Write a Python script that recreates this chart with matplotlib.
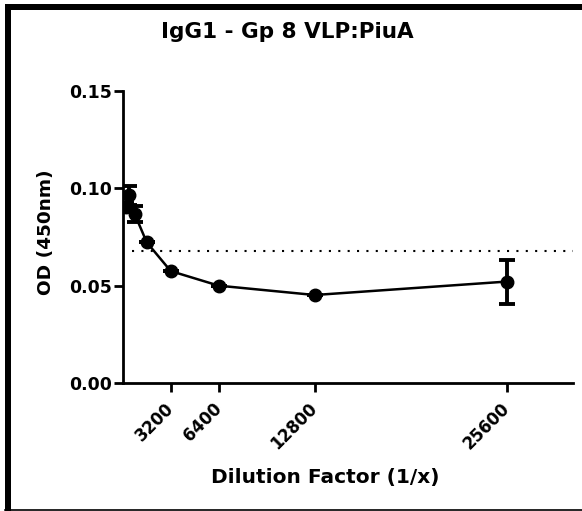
import matplotlib
matplotlib.use("Agg")
import matplotlib.pyplot as plt
from matplotlib.patches import Rectangle
from matplotlib.lines import Line2D

dilution = [200, 400, 800, 1600, 3200, 6400, 12800, 25600]
od = [0.0906, 0.0964, 0.0868, 0.0723, 0.0575, 0.0500, 0.0452, 0.0521]
od_err = [0.002, 0.0048, 0.0042, 0.0, 0.0, 0.0, 0.0, 0.0113]
cutoff = 0.068
cutoff_start = 600
xticks = [3200, 6400, 12800, 25600]
xtick_labels = ["3200", "6400", "12800", "25600"]
yticks = [0.00, 0.05, 0.10, 0.15]
ytick_labels = ["0.00", "0.05", "0.10", "0.15"]

plt.rcParams['font.family'] = ['DejaVu Sans']
plt.rcParams['font.weight'] = 'bold'

W, H = 582, 511
fig = plt.figure(figsize=(W/100, H/100), dpi=100)
ax = fig.add_axes([122.7/W, 1-383/H, 450/W, 292/H])

ax.errorbar(dilution, od, yerr=od_err, fmt='o-', color='black', ms=9,
            lw=1.8, elinewidth=2.8, capsize=5.5, capthick=2.8, zorder=3)
ax.plot([cutoff_start, 30000], [cutoff, cutoff], color='black', lw=1.5,
        linestyle=(0, (1, 3.5)), zorder=2)

ax.set_xlim(0, 30000)
ax.set_ylim(0, 0.15)
ax.set_xticks(xticks)
ax.set_xticklabels(xtick_labels, rotation=45, ha='right', va='center',
                   rotation_mode='anchor', fontsize=12, fontweight='bold')
ax.set_yticks(yticks)
ax.set_yticklabels(ytick_labels, fontsize=12.5, fontweight='bold')
for s in ['top', 'right']:
    ax.spines[s].set_visible(False)
for s in ['left', 'bottom']:
    ax.spines[s].set_linewidth(2)
ax.tick_params(width=2, length=6.5, direction='out')
ax.tick_params(axis='y', pad=1)
ax.tick_params(axis='x', pad=10)

fig.text(287/W, 1-32/H, "IgG1 - Gp 8 VLP:PiuA", ha='center', va='center',
         fontsize=15.5, fontweight='bold')
fig.text(325/W, 1-477/H, "Dilution Factor (1/x)", ha='center', va='center',
         fontsize=14.5, fontweight='bold')
fig.text(46/W, 1-232/H, "OD (450nm)", ha='center', va='center',
         rotation=90, fontsize=13.3, fontweight='bold')

# frame
fig.add_artist(Rectangle((5/W, 0), 6/W, 1-4/H, transform=fig.transFigure,
                         color='black', lw=0))
fig.add_artist(Rectangle((5/W, 1-10/H), 1-5/W, 6/H, transform=fig.transFigure,
                         color='black', lw=0))
fig.add_artist(Line2D([5/W, 1], [1.5/H, 1.5/H], transform=fig.transFigure,
                      color='black', lw=1.2))

fig.savefig("out.png", dpi=100)
